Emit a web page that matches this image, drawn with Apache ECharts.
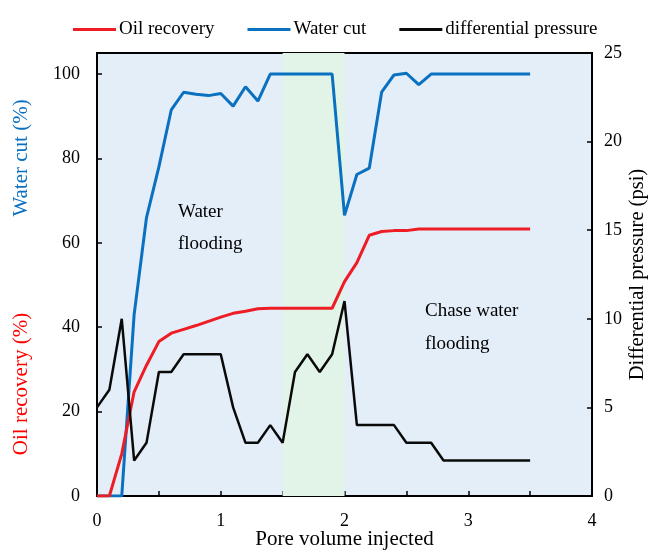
<!DOCTYPE html>
<html>
<head>
<meta charset="utf-8">
<script src="https://cdn.jsdelivr.net/npm/echarts@6/dist/echarts.min.js"></script>
<style>
html,body{margin:0;padding:0;background:#fff;}
#chart{width:648px;height:550px;}
</style>
</head>
<body>
<div id="chart"></div>
<script>
// Pore volume injected (PV)
const pv = [0, 0.1, 0.2, 0.3, 0.4, 0.5, 0.6, 0.7, 0.8, 0.9, 1.0, 1.1, 1.2, 1.3, 1.4, 1.5, 1.6, 1.7, 1.8, 1.9,
            2.0, 2.1, 2.2, 2.3, 2.4, 2.5, 2.6, 2.7, 2.8, 2.9, 3.0, 3.1, 3.2, 3.3, 3.4, 3.5];
// Oil recovery (%)
const oilRecovery = [0, 0, 10, 24.7, 31, 36.6, 38.6, 39.5, 40.4, 41.4, 42.4, 43.3, 43.8, 44.4, 44.5, 44.5, 44.5, 44.5, 44.5, 44.5,
                     50.8, 55.3, 61.8, 62.7, 62.9, 62.9, 63.3, 63.3, 63.3, 63.3, 63.3, 63.3, 63.3, 63.3, 63.3, 63.3];
// Water cut (%)
const waterCut = [0, 0, 0, 43, 66, 78, 91.5, 95.7, 95.2, 94.9, 95.4, 92.4, 97, 93.6, 100, 100, 100, 100, 100, 100,
                  66.5, 76.2, 77.7, 95.7, 99.8, 100.2, 97.5, 100, 100, 100, 100, 100, 100, 100, 100, 100];
// Differential pressure (psi)
const diffPressure = [5, 6, 10, 2, 3, 7, 7, 8, 8, 8, 8, 5, 3, 3, 4, 3, 7, 8, 7, 8,
                      11, 4, 4, 4, 4, 3, 3, 3, 2, 2, 2, 2, 2, 2, 2, 2];
// ASP slug interval (PV)
const aspStart = 1.5, aspEnd = 2.0;

const pairs = ys => pv.map((x, i) => [x, ys[i]]);

const RED = '#ee1c24', BLUE = '#0a70c0', BLACK = '#0a0a0a';
const FONT = "'Liberation Serif', 'Times New Roman', serif";
const chart = echarts.init(document.getElementById('chart'));
chart.setOption({
  animation: false,
  textStyle: { fontFamily: FONT, color: '#000' },
  legend: {
    top: 15, left: 68, itemWidth: 43, itemHeight: 3, itemGap: 33, icon: 'rect',
    textStyle: { fontFamily: FONT, fontSize: 19, color: '#000', padding: [0, 0, 0, -2] },
    data: ['Oil recovery', 'Water cut', 'differential pressure']
  },
  grid: {
    left: 97, right: 56, top: 53, bottom: 54, outerBoundsMode: 'none',
    show: true, backgroundColor: '#e4eef8', borderColor: '#000', borderWidth: 2
  },
  xAxis: {
    type: 'value', min: 0, max: 4, interval: 1,
    name: 'Pore volume injected', nameLocation: 'middle', nameGap: 33, nameMoveOverlap: false,
    nameTextStyle: { fontFamily: FONT, fontSize: 21, color: '#000' },
    axisLine: { lineStyle: { color: '#000', width: 2 } },
    axisTick: { inside: true, length: 5, lineStyle: { color: '#000', width: 1.5 } },
    minorTick: { show: true, splitNumber: 2, length: 5, lineStyle: { color: '#000', width: 1.5 } },
    axisLabel: { fontFamily: FONT, fontSize: 18, color: '#000', margin: 16 },
    splitLine: { show: false }
  },
  yAxis: [{
    type: 'value', min: 0, max: 105, interval: 20, position: 'left',
    axisLine: { show: true, lineStyle: { color: '#000', width: 2 } },
    axisTick: { inside: true, length: 5, lineStyle: { color: '#000', width: 1.5 } },
    axisLabel: { fontFamily: FONT, fontSize: 18, color: '#000', margin: 17,
                 formatter: v => (v > 100 ? '' : String(v)) },
    splitLine: { show: false }
  }, {
    type: 'value', min: 0, max: 25, interval: 5, position: 'right',
    name: 'Differential pressure (psi)', nameLocation: 'middle', nameGap: 35, nameRotate: 90,
    nameMoveOverlap: false,
    nameTextStyle: { fontFamily: FONT, fontSize: 20.5, color: '#000' },
    axisLine: { show: true, lineStyle: { color: '#000', width: 2 } },
    axisTick: { inside: true, length: 5, lineStyle: { color: '#000', width: 1.5 } },
    axisLabel: { fontFamily: FONT, fontSize: 18, color: '#000', margin: 12 },
    splitLine: { show: false }
  }],
  series: [{
    name: 'Oil recovery', type: 'line', yAxisIndex: 0, symbol: 'none',
    data: pairs(oilRecovery), lineStyle: { color: RED, width: 3 }, itemStyle: { color: RED },
    markArea: {
      silent: true, itemStyle: { color: '#e2f4e7' },
      data: [[{ xAxis: aspStart }, { xAxis: aspEnd }]]
    },
    z: 3
  }, {
    name: 'Water cut', type: 'line', yAxisIndex: 0, symbol: 'none',
    data: pairs(waterCut), lineStyle: { color: BLUE, width: 3 }, itemStyle: { color: BLUE }, z: 2
  }, {
    name: 'differential pressure', type: 'line', yAxisIndex: 1, symbol: 'none',
    data: pairs(diffPressure), lineStyle: { color: BLACK, width: 2.5 }, itemStyle: { color: BLACK }, z: 4
  }],
  graphic: [
    { type: 'text', x: 21, y: 158, rotation: Math.PI / 2,
      style: { text: 'Water cut (%)', font: '21px ' + FONT, fill: BLUE, align: 'center', verticalAlign: 'middle' } },
    { type: 'text', x: 21, y: 384, rotation: Math.PI / 2,
      style: { text: 'Oil recovery (%)', font: '21px ' + FONT, fill: '#ff0000', align: 'center', verticalAlign: 'middle' } },
    { type: 'text', x: 178, y: 212,
      style: { text: 'Water', font: '19px ' + FONT, fill: '#000', verticalAlign: 'middle' } },
    { type: 'text', x: 178, y: 244,
      style: { text: 'flooding', font: '19px ' + FONT, fill: '#000', verticalAlign: 'middle' } },
    { type: 'text', x: 316, y: 228, rotation: -Math.PI / 2,
      style: { text: 'ASP flooding', font: '19px ' + FONT, fill: '#000', align: 'center', verticalAlign: 'middle' } },
    { type: 'text', x: 425, y: 311,
      style: { text: 'Chase water', font: '19px ' + FONT, fill: '#000', verticalAlign: 'middle' } },
    { type: 'text', x: 425, y: 344,
      style: { text: 'flooding', font: '19px ' + FONT, fill: '#000', verticalAlign: 'middle' } }
  ]
});
</script>
</body>
</html>
